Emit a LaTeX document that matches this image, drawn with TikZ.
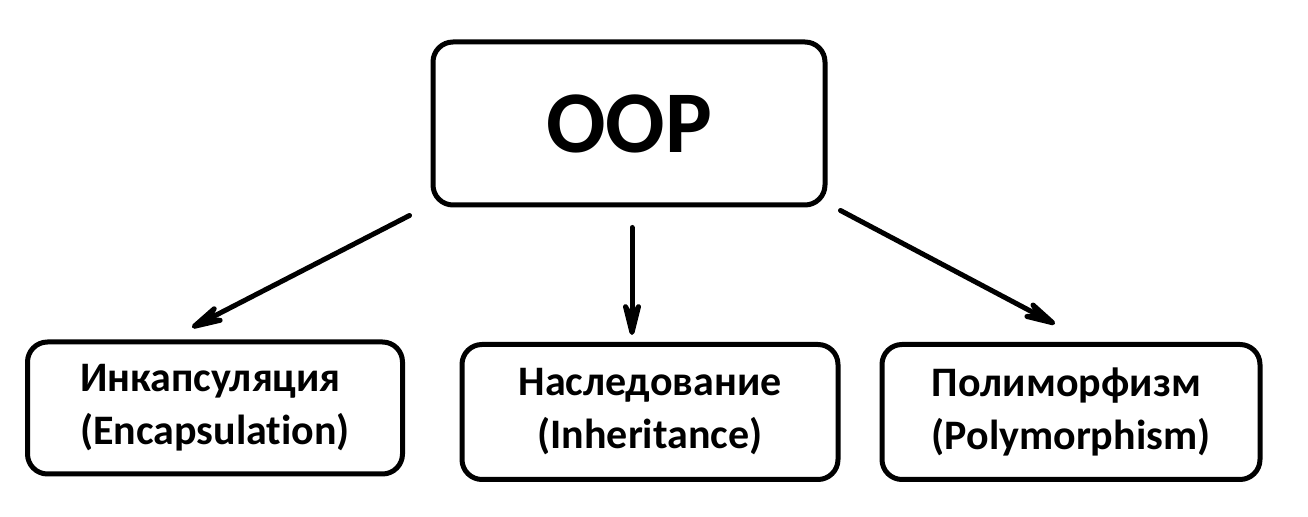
\documentclass[tikz,border=0pt]{standalone}
\usepackage{fontspec}
\setmainfont{Carlito}[Ligatures={NoCommon}]
\usetikzlibrary{arrows.meta,calc}
\tikzset{box/.style={draw,line width=2.5pt,rounded corners=10pt,font=\bfseries\fontsize{21}{26.5}\selectfont},
arr/.style={line width=2.5pt,line cap=round,-{Stealth[length=26pt,width=13pt,inset=11pt,round]}}}
\begin{document}
\begin{tikzpicture}[x=.5pt,y=-.5pt]
\useasboundingbox (0,0) rectangle (1308,517);
\node[box,minimum width=196pt,minimum height=81.5pt,font=\bfseries\fontsize{44}{50}\selectfont] (oop) at (629,123.5) {OOP};
\node[box,minimum width=187.5pt,minimum height=66pt,align=left] (enc) at (215,408) {Инкапсуляция\\(Encapsulation)};
\node[box,minimum width=188pt,minimum height=67.5pt,align=center] (inh) at (650,412) {Наследование\\(Inheritance)};
\node[box,minimum width=189pt,minimum height=67.5pt,align=left] (pol) at (1071,412) {Полиморфизм\\(Polymorphism)};
\draw[arr] ($(oop.south west)+(-21,8)$)--($(enc.north)+(-23,-12)$);
\draw[arr] ($(oop.south)+(3,20)$)--($(inh.north)+(-18,-7)$);
\draw[arr] ($(oop.south east)+(13,3)$)--($(pol.north)+(-16,-18)$);
\end{tikzpicture}
\end{document}
